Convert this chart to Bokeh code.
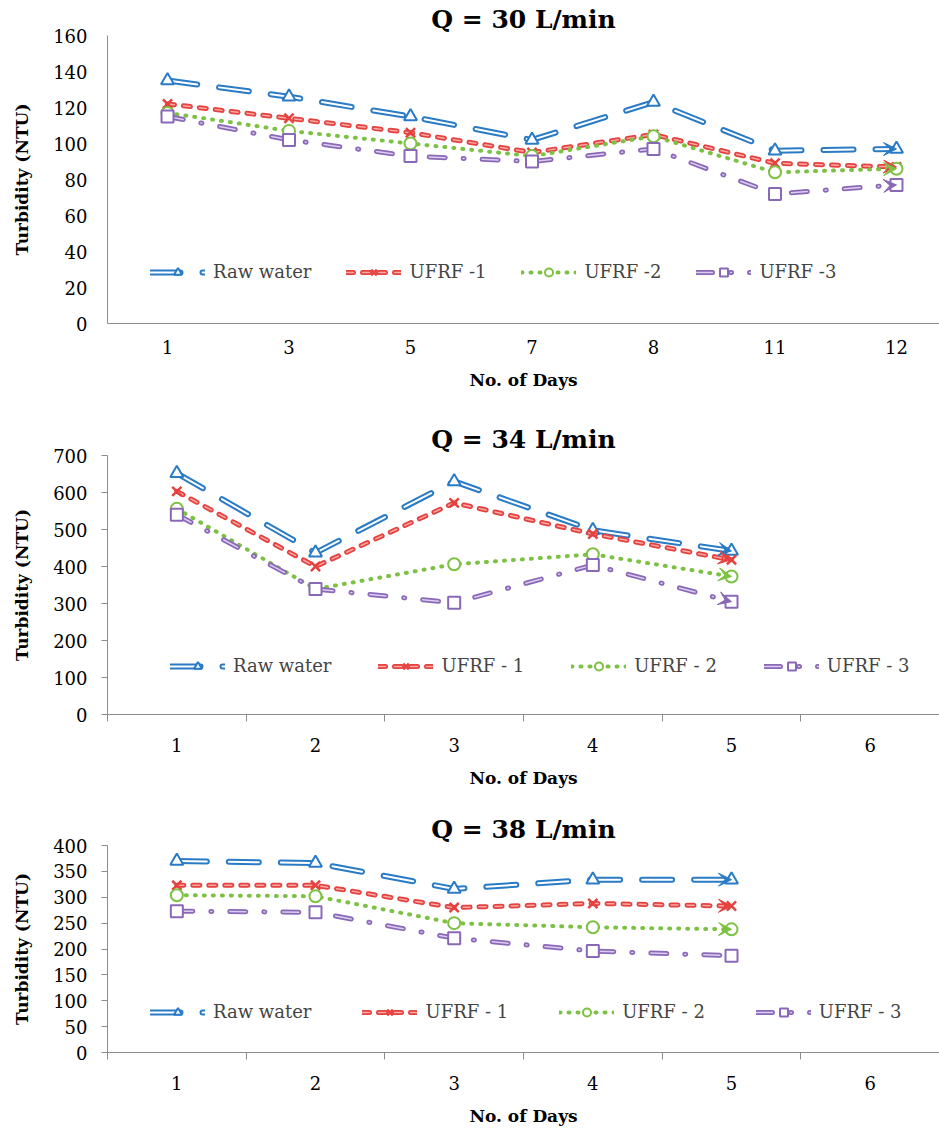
from bokeh.plotting import figure
from bokeh.layouts import column
from bokeh.models import Range1d, FixedTicker, Legend, LegendItem, Arrow, VeeHead
from bokeh.embed import file_html
from bokeh.resources import INLINE

# ---------------- data ----------------
days_30 = ["1", "3", "5", "7", "8", "11", "12"]
raw_30 = [135, 126, 115, 102, 123, 96, 97]
ufrf1_30 = [122, 114, 106, 95, 105, 89, 87]
ufrf2_30 = [117, 107, 100, 93, 104, 84, 86]
ufrf3_30 = [115, 102, 93, 90, 97, 72, 77]

days_34 = ["1", "2", "3", "4", "5", "6"]
raw_34 = [652, 437, 630, 498, 442]
ufrf1_34 = [603, 400, 572, 488, 418]
ufrf2_34 = [556, 339, 406, 433, 373]
ufrf3_34 = [540, 339, 302, 404, 305]

days_38 = ["1", "2", "3", "4", "5", "6"]
raw_38 = [370, 366, 316, 334, 334]
ufrf1_38 = [323, 323, 280, 288, 283]
ufrf2_38 = [304, 302, 250, 242, 238]
ufrf3_38 = [273, 271, 221, 196, 187]

yticks_30 = [0, 20, 40, 60, 80, 100, 120, 140, 160]
yticks_34 = [0, 100, 200, 300, 400, 500, 600, 700]
yticks_38 = [0, 50, 100, 150, 200, 250, 300, 350, 400]

labels_30 = ["Raw water", "UFRF -1", "UFRF -2", "UFRF -3"]
labels_34 = ["Raw water", "UFRF - 1", "UFRF - 2", "UFRF - 3"]
labels_38 = ["Raw water", "UFRF - 1", "UFRF - 2", "UFRF - 3"]

# ---------------- styles ----------------
FONT = "DejaVu Serif"
AXIS_COL = "#8c8c8c"
STYLES = [
    dict(color="#2a7bc6", inner="white", width=6, inner_width=2, dash="30 22", marker="triangle", msize=13),
    dict(color="#e5413e", inner="#f6a9a6", width=5, inner_width=1.5, dash="7 9", marker="x", msize=13),
    dict(color="#7cc142", inner=None, width=4, inner_width=0, dash="1 8", marker="circle", msize=12),
    dict(color="#8a68b8", inner="#dccdef", width=5, inner_width=1.5, dash="16 18 1 18", marker="square", msize=12),
]


def make_panel(title, days, series, labels, ymax, yticks, height, top, bottom,
               xstart, xend, ticks_visible, legend_loc, legend_spacing, arrows):
    p = figure(width=939, height=height, x_range=Range1d(xstart, xend),
               y_range=Range1d(0, ymax), output_backend="svg", toolbar_location=None,
               min_border_left=107, min_border_right=0, min_border_top=top,
               min_border_bottom=bottom, title=title)
    p.background_fill_color = "white"
    p.border_fill_color = "white"
    p.outline_line_color = None
    p.xgrid.visible = False
    p.ygrid.visible = False

    p.title.text_font = FONT
    p.title.text_font_size = "25px"
    p.title.text_font_style = "bold"
    p.title.text_color = "black"
    p.title.align = "center"
    p.title.standoff = 3

    xs = list(range(len(days)))
    p.xaxis.ticker = FixedTicker(ticks=xs, minor_ticks=[i - 0.5 for i in range(len(days) + 1)])
    p.xaxis.major_label_overrides = {i: d for i, d in enumerate(days)}
    p.xaxis.major_tick_out = 0
    p.xaxis.major_tick_in = 0
    p.xaxis.minor_tick_in = 0
    p.xaxis.minor_tick_out = 7 if ticks_visible else 0
    p.xaxis.minor_tick_line_color = AXIS_COL
    p.xaxis.axis_line_color = AXIS_COL
    p.xaxis.major_label_standoff = 16
    p.xaxis.axis_label = "No. of Days"
    p.xaxis.axis_label_standoff = 13

    p.yaxis.ticker = FixedTicker(ticks=yticks)
    p.yaxis.minor_tick_out = 0
    p.yaxis.minor_tick_in = 0
    p.yaxis.major_tick_in = 0
    p.yaxis.major_tick_out = 6 if ticks_visible else 0
    p.yaxis.major_tick_line_color = AXIS_COL
    p.yaxis.axis_line_color = AXIS_COL
    p.yaxis.major_label_standoff = 14 if ticks_visible else 20
    p.yaxis.axis_label = "Turbidity (NTU)"
    p.yaxis.axis_label_standoff = 18

    for ax in (p.xaxis, p.yaxis):
        ax.major_label_text_font = FONT
        ax.major_label_text_font_size = "18px"
        ax.major_label_text_color = "black"
        ax.axis_label_text_font = FONT
        ax.axis_label_text_font_size = "17px"
        ax.axis_label_text_font_style = "bold"
        ax.axis_label_text_color = "black"

    items = []
    for k, (vals, lab, st) in enumerate(zip(series, labels, STYLES)):
        x = xs[:len(vals)]
        rs = []
        rs.append(p.line(x, vals, line_color=st["color"], line_width=st["width"],
                         line_dash=st["dash"], line_cap="round"))
        if st["inner"]:
            rs.append(p.line(x, vals, line_color=st["inner"], line_width=st["inner_width"],
                             line_dash=st["dash"], line_cap="round"))
        if st["marker"] == "x":
            m = p.scatter(x, vals, marker="x", size=st["msize"], line_color=st["color"], line_width=2.5)
        else:
            m = p.scatter(x, vals, marker=st["marker"], size=st["msize"], line_color=st["color"],
                          fill_color="white", line_width=2)
        rs.append(m)
        if arrows[k]:
            p.add_layout(Arrow(end=VeeHead(size=13, line_color=st["color"], fill_color=st["color"]),
                               x_start=x[-2], y_start=vals[-2], x_end=x[-1], y_end=vals[-1],
                               line_alpha=0))
        items.append(LegendItem(label=lab, renderers=rs))

    leg = Legend(items=items, orientation="horizontal", location=legend_loc,
                 glyph_width=55, glyph_height=20, label_standoff=8, spacing=legend_spacing,
                 padding=0, margin=0, border_line_alpha=0, background_fill_alpha=0,
                 label_text_font=FONT, label_text_font_size="18px", label_height=20)
    p.add_layout(leg)
    return p


p1 = make_panel("Q = 30 L/min", days_30, [raw_30, ufrf1_30, ufrf2_30, ufrf3_30], labels_30,
                160, yticks_30, 400, 35, 77, -0.494, 6.354, False, (43, 41), 35,
                [True, True, True, True])
p2 = make_panel("Q = 34 L/min", days_34, [raw_34, ufrf1_34, ufrf2_34, ufrf3_34], labels_34,
                700, yticks_34, 390, 55, 74, -0.5, 5.5, True, (63, 38), 47,
                [True, True, True, True])
p3 = make_panel("Q = 38 L/min", days_38, [raw_38, ufrf1_38, ufrf2_38, ufrf3_38], labels_38,
                400, yticks_38, 338, 55, 75, -0.5, 5.5, True, (43, 30), 51,
                [True, True, True, False])

layout = column(p1, p2, p3, spacing=0)
open("out.html", "w").write(file_html(layout, INLINE))
